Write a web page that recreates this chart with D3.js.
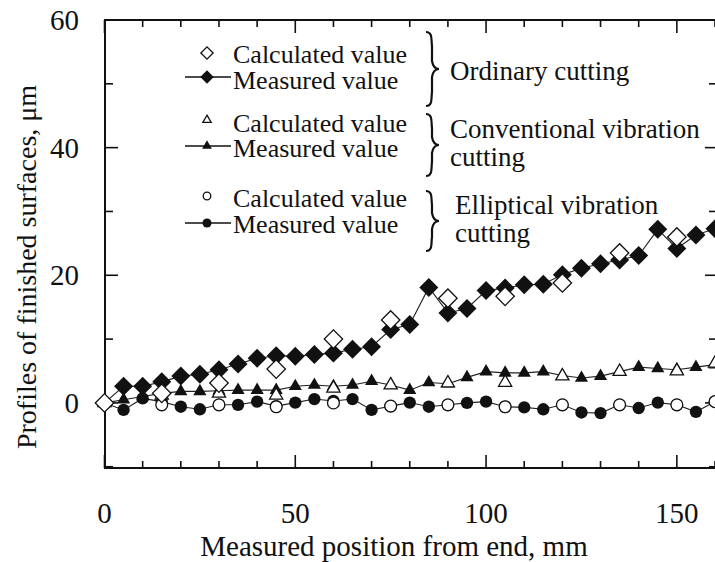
<!DOCTYPE html>
<html>
<head>
<meta charset="utf-8">
<script src="https://cdn.jsdelivr.net/npm/d3@7"></script>
<style>
body { margin: 0; background: #fff; }
</style>
</head>
<body>
<div id="chart"></div>
<script>
/* ---------- data ---------- */
var positions = [0,5,10,15,20,25,30,35,40,45,50,55,60,65,70,75,80,85,90,95,100,105,110,115,120,125,130,135,140,145,150,155,160];

// measured values (filled markers, joined by a line)
var ordinaryMeasured     = [0,2.6,2.6,3.3,4.2,4.5,5.2,6.1,7.0,7.4,7.3,7.6,7.8,8.4,8.8,11.5,12.3,18.1,14.1,14.8,17.6,18.0,18.5,18.6,20.1,21.1,21.8,22.4,23.1,27.2,24.2,26.3,27.3];
var conventionalMeasured = [0,0.5,1.0,1.5,1.8,1.8,1.9,2.0,2.0,2.0,2.6,2.8,2.6,2.8,3.4,2.8,2.0,3.2,3.0,4.0,4.9,4.7,4.7,4.9,4.3,3.9,4.2,4.9,5.6,5.4,5.2,5.6,6.0];
var ellipticalMeasured   = [0,-1.1,0.7,0.2,-0.6,-1.0,-0.3,-0.3,0.2,-0.5,0.05,0.6,0.3,0.6,-1.1,-0.5,0.05,-0.6,-0.3,0,0.2,-0.6,-0.7,-1.0,-0.3,-1.5,-1.6,-0.3,-0.8,0.05,-0.3,-1.4,0.2];

// calculated values (open markers)
var ordinaryCalcPos       = [0,15,30,45,60,75,90,105,120,135,150];
var ordinaryCalculated    = [0,1.5,3.1,5.3,10.0,13.0,16.4,16.7,18.8,23.5,26.0];
var vibrationCalcPos      = [0,15,30,45,60,75,90,105,120,135,150,160];
var conventionalCalculated = [0,1.2,1.5,1.2,2.3,2.8,3.1,3.2,4.2,4.9,5.0,6.2];
var ellipticalCalculated   = [0,-0.3,-0.3,-0.6,0,-0.5,-0.3,-0.6,-0.3,-0.3,-0.3,0.2];

var xTickLabels = [0,50,100,150];
var yTickLabels = [0,20,40,60];

var legendRows  = ["Calculated value","Measured value"];
var groupLabels = [["Ordinary cutting"],["Conventional vibration","cutting"],["Elliptical vibration","cutting"]];

/* ---------- layout ---------- */
var W = 715, H = 562;
var plotLeft = 105, plotRight = 717, plotTop = 20, plotBottom = 468;
var serif = "'Times New Roman', Times, 'Liberation Serif', 'DejaVu Serif', 'Noto Serif', 'Nimbus Roman', FreeSerif, serif";

var svg = d3.select("#chart").append("svg")
    .attr("width", W)
    .attr("height", H)
    .style("font-family", serif);

var x = d3.scaleLinear().domain([0,160]).range([104.5,715]);
var y = d3.scaleLinear().domain([-10.2,60]).range([plotBottom,plotTop]);

var ink = "#111";

/* ---------- frame + ticks (inward) ---------- */
var xTicks = d3.range(0,170,10);
var yTicks = d3.range(-10,70,10);

var frame = svg.append("g");
frame.selectAll(".xb").data(xTicks).enter().append("line")
    .attr("x1", d => x(d)).attr("x2", d => x(d))
    .attr("y1", plotBottom).attr("y2", d => plotBottom - (d%50==0 ? 13 : 7))
    .attr("stroke", ink).attr("stroke-width", 1.6);
frame.selectAll(".xt").data(xTicks).enter().append("line")
    .attr("x1", d => x(d)).attr("x2", d => x(d))
    .attr("y1", plotTop).attr("y2", d => plotTop + (d%50==0 ? 13 : 7))
    .attr("stroke", ink).attr("stroke-width", 1.6);
frame.selectAll(".yl").data(yTicks).enter().append("line")
    .attr("x1", plotLeft).attr("x2", d => plotLeft + (d%20==0 ? 13 : 8))
    .attr("y1", d => y(d)).attr("y2", d => y(d))
    .attr("stroke", ink).attr("stroke-width", 1.6);
frame.selectAll(".yr").data(yTicks).enter().append("line")
    .attr("x1", plotRight).attr("x2", d => plotRight - (d%20==0 ? 12 : 8))
    .attr("y1", d => y(d)).attr("y2", d => y(d))
    .attr("stroke", ink).attr("stroke-width", 1.6);

frame.append("path")
    .attr("d", "M"+plotRight+","+plotTop+"H"+plotLeft+"V"+plotBottom+"H"+plotRight)
    .attr("fill", "none")
    .attr("stroke", ink)
    .attr("stroke-width", 2);

// tick labels
svg.selectAll(".xlab").data(xTickLabels).enter().append("text")
    .attr("x", d => x(d)).attr("y", 523)
    .attr("text-anchor", "middle")
    .attr("font-size", "29px")
    .attr("fill", ink)
    .text(d => d);
svg.selectAll(".ylab").data(yTickLabels).enter().append("text")
    .attr("x", 79).attr("y", d => y(d) + 10)
    .attr("text-anchor", "end")
    .attr("font-size", "29px")
    .attr("fill", ink)
    .text(d => d);

// axis titles
svg.append("text")
    .attr("x", 394).attr("y", 556)
    .attr("text-anchor", "middle")
    .attr("font-size", "29px")
    .attr("fill", ink)
    .text("Measured position from end, mm");
svg.append("text")
    .attr("transform", "translate(36,267) rotate(-90)")
    .attr("text-anchor", "middle")
    .attr("font-size", "28px")
    .attr("fill", ink)
    .text("Profiles of finished surfaces, \u03bcm");

/* ---------- markers ---------- */
var diamond  = function(s){ return d3.symbol().type(d3.symbolSquare).size(s)(); };
var triangle = function(s){ return d3.symbol().type(d3.symbolTriangle).size(s)(); };
var circle   = function(s){ return d3.symbol().type(d3.symbolCircle).size(s)(); };

var line = d3.line().x(d => x(d[0])).y(d => y(d[1]));

var measured = [
    {vals: ordinaryMeasured,     shape: diamond,  size: 180, rot: 45},
    {vals: conventionalMeasured, shape: triangle, size: 75,  rot: 0},
    {vals: ellipticalMeasured,   shape: circle,   size: 120, rot: 0}
];
var calculated = [
    {pos: vibrationCalcPos, vals: ellipticalCalculated,   shape: circle,   size: 110, rot: 0},
    {pos: vibrationCalcPos, vals: conventionalCalculated, shape: triangle, size: 75,  rot: 0},
    {pos: ordinaryCalcPos,  vals: ordinaryCalculated,     shape: diamond,  size: 170, rot: 45}
];

var plot = svg.append("g");

measured.forEach(function(s){
    var pts = positions.map((p,i) => [p, s.vals[i]]);
    plot.append("path")
        .datum(pts)
        .attr("d", line)
        .attr("fill", "none")
        .attr("stroke", "#222")
        .attr("stroke-width", 1.1);
});
measured.forEach(function(s){
    var pts = positions.map((p,i) => [p, s.vals[i]]);
    plot.selectAll(null).data(pts).enter().append("path")
        .attr("d", s.shape(s.size))
        .attr("transform", d => "translate("+x(d[0])+","+y(d[1])+") rotate("+s.rot+")")
        .attr("fill", ink);
});
calculated.forEach(function(s){
    var pts = s.pos.map((p,i) => [p, s.vals[i]]);
    plot.selectAll(null).data(pts).enter().append("path")
        .attr("d", s.shape(s.size))
        .attr("transform", d => "translate("+x(d[0])+","+y(d[1])+") rotate("+s.rot+")")
        .attr("fill", "#fff")
        .attr("stroke", ink)
        .attr("stroke-width", 1.3);
});

/* ---------- legend ---------- */
var legShapes = [
    {shape: diamond,  calcSize: 75, measSize: 90, rot: 45, cy: [53,77]},
    {shape: triangle, calcSize: 30, measSize: 42, rot: 0,  cy: [120,146]},
    {shape: circle,   calcSize: 45, measSize: 64, rot: 0,  cy: [196,223]}
];
var legBase = [[63,89],[132,157],[207,233]];
var legend = svg.append("g");

legShapes.forEach(function(s,i){
    // measured row: line through a filled marker
    legend.append("line")
        .attr("x1", 185).attr("x2", 231)
        .attr("y1", s.cy[1]).attr("y2", s.cy[1])
        .attr("stroke", ink).attr("stroke-width", 1.3);
    legend.append("path")
        .attr("d", s.shape(s.calcSize))
        .attr("transform", "translate(207,"+s.cy[0]+") rotate("+s.rot+")")
        .attr("fill", "#fff").attr("stroke", ink).attr("stroke-width", 1.3);
    legend.append("path")
        .attr("d", s.shape(s.measSize))
        .attr("transform", "translate(207,"+s.cy[1]+") rotate("+s.rot+")")
        .attr("fill", ink);
    legendRows.forEach(function(t,j){
        legend.append("text")
            .attr("x", 233).attr("y", legBase[i][j])
            .attr("font-size", "26px")
            .attr("fill", ink)
            .text(t);
    });
});

// curly braces + group names
var braces = [[32,106],[114,176],[191,251]];
var brace = function(xc, y0, y1){
    var m = (y0+y1)/2;
    return "M"+(xc-6)+","+y0+
        " C"+(xc+1)+","+y0+" "+(xc-1)+","+(y0+8)+" "+xc+","+(y0+14)+
        " L"+xc+","+(m-8)+
        " C"+(xc+1)+","+(m-2)+" "+(xc+4)+","+m+" "+(xc+7)+","+m+
        " C"+(xc+4)+","+m+" "+(xc+1)+","+(m+2)+" "+xc+","+(m+8)+
        " L"+xc+","+(y1-14)+
        " C"+(xc-1)+","+(y1-8)+" "+(xc+1)+","+y1+" "+(xc-6)+","+y1;
};
braces.forEach(function(b){
    legend.append("path")
        .attr("d", brace(432, b[0], b[1]))
        .attr("fill", "none")
        .attr("stroke", ink)
        .attr("stroke-width", 2.2);
});

var groupPos = [{x:450, y:[80]}, {x:450, y:[138,166]}, {x:455, y:[214,242]}];
groupLabels.forEach(function(g,i){
    g.forEach(function(t,j){
        legend.append("text")
            .attr("x", groupPos[i].x).attr("y", groupPos[i].y[j])
            .attr("font-size", "27px")
            .attr("fill", ink)
            .text(t);
    });
});
</script>
</body>
</html>
